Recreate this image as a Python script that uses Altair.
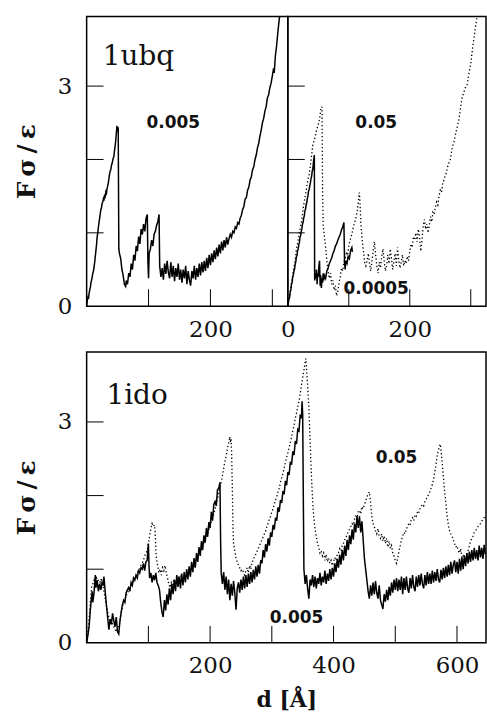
import altair as alt
import pandas as pd

# ---------------- data ----------------
# top-left: 1ubq, v = 0.005 (solid)
UBQ_005 = [(0,0.00),(1,0.08),(2,0.12),(3,0.10),(4,0.18),(5,0.22),(6,0.26),(7,0.32),(8,0.36),(9,0.40),(10,0.45),(11,0.48),(12,0.54),(13,0.60),(14,0.68),(15,0.76),(16,0.84),(17,0.95),(18,1.00),(19,1.08),(20,1.14),(21,1.20),(22,1.26),(23,1.32),(24,1.34),(25,1.40),(26,1.42),(27,1.46),(28,1.44),(29,1.52),(30,1.50),(31,1.56),(32,1.54),(33,1.60),(34,1.64),(35,1.68),(36,1.74),(37,1.80),(38,1.84),(39,1.86),(40,1.92),(41,1.94),(42,1.98),(43,2.02),(44,2.04),(45,2.12),(46,2.18),(47,2.26),(48,2.36),(49,2.46),(50,2.38),(51,2.44),(52,0.78),
    (53,0.72),(55,0.65),(57,0.50),(59,0.42),(61,0.30),(63,0.27),(64,0.35),(66,0.30),(68,0.45),(70,0.40),(72,0.58),(74,0.50),(76,0.70),(78,0.62),(80,0.82),(82,0.75),(84,0.95),(86,0.85),(88,1.05),(90,0.98),(92,1.12),(94,1.02),(96,1.20),(98,1.25),(99,0.60),(100,0.38),(101,0.72),(103,0.78),(105,0.90),(107,0.82),(109,0.98),(111,1.02),(113,1.10),(115,1.15),(117,1.25),(118,0.55),
    (120,0.40),(122,0.52),(124,0.36),(126,0.58),(128,0.44),(130,0.62),(132,0.46),(134,0.38),(136,0.60),(138,0.40),(140,0.55),(142,0.34),(144,0.52),(146,0.40),(148,0.58),(150,0.36),(152,0.50),(154,0.32),(156,0.50),(158,0.38),(160,0.55),(162,0.30),(164,0.48),(166,0.36),(168,0.28),(170,0.48),(172,0.38),(174,0.55),(176,0.36),(178,0.52),(180,0.40),(182,0.58),(184,0.42),(186,0.60),(188,0.46),(190,0.62),(192,0.48),(194,0.66),(196,0.52),(198,0.70),(200,0.56),(202,0.72),(204,0.60),(206,0.76),(208,0.64),(210,0.80),(212,0.68),(214,0.84),(216,0.72),(218,0.88),(220,0.76),(222,0.90),(224,0.80),(226,0.94),(228,0.84),
    (230,0.92),(232,0.98),(234,0.94),(236,1.02),(238,1.00),(240,1.08),(242,1.06),(244,1.14),(246,1.12),(248,1.20),(250,1.24),(252,1.32),(254,1.36),(256,1.46),(258,1.48),(260,1.58),(262,1.62),(264,1.72),(266,1.76),(268,1.86),(270,1.90),(272,2.00),(274,2.06),(276,2.16),(278,2.22),(280,2.32),(282,2.40),(284,2.50),(286,2.56),(288,2.66),(290,2.72),(292,2.84),(294,2.88),(296,2.98),(298,3.04),(300,3.14),(302,3.24),(303,3.18),(305,3.42),(307,3.56),(309,3.74),(311,3.90),(312,3.98)]

# top-right: v = 0.05 (dotted)
UBQ_05 = [(0,0.00),(3,0.15),(6,0.32),(9,0.48),(12,0.62),(14,0.78),(17,0.90),(20,1.05),(23,1.18),(26,1.38),(29,1.52),(32,1.68),(35,1.80),(38,1.98),(41,2.20),(44,2.28),(47,2.40),(50,2.48),(52,2.55),(54,2.68),(56,2.72),(57,1.60),(58,1.10),(60,0.95),(62,0.80),(64,0.62),(66,0.48),(68,0.38),(70,0.45),(72,0.30),(74,0.35),(76,0.22),(78,0.28),(80,0.14),(82,0.20),(84,0.32),(86,0.40),(88,0.52),(90,0.48),(92,0.60),(94,0.66),(96,0.72),(98,0.70),(100,0.82),(102,0.90),(104,0.95),(106,1.02),(108,1.10),(110,1.15),(112,1.22),(114,1.30),(116,1.45),(117,1.55),(118,1.48),(120,1.10),(122,0.90),(124,0.75),(126,0.60),(128,0.55),(130,0.62),(132,0.72),(134,0.58),(136,0.48),(138,0.62),(140,0.75),(142,0.88),(144,0.70),(146,0.55),(148,0.45),(150,0.60),(152,0.52),(154,0.68),(156,0.78),(158,0.62),(160,0.48),(162,0.55),(164,0.70),(166,0.58),(168,0.78),(170,0.65),(172,0.50),(174,0.62),(176,0.72),(178,0.55),(180,0.80),(182,0.62),(184,0.52),(186,0.60),(188,0.70),(190,0.55),(192,0.62),(194,0.58),(196,0.68),(198,0.62),(200,0.75),(202,0.85),(204,0.80),(206,0.95),(208,0.90),(210,1.00),(212,0.88),(214,1.05),(216,0.95),(218,0.75),(220,0.90),(222,1.10),(224,1.18),(226,1.05),(228,1.12),(230,1.00),(232,1.10),(234,1.22),(236,1.15),(238,1.28),(240,1.25),(242,1.35),(244,1.42),(246,1.38),(248,1.50),(250,1.58),(252,1.55),(254,1.68),(256,1.72),(258,1.78),(260,1.82),(262,1.90),(264,1.95),(266,1.98),(268,2.08),(270,2.18),(272,2.22),(274,2.30),(276,2.38),(278,2.45),(280,2.52),(282,2.62),(284,2.75),(286,2.85),(288,2.90),(290,2.95),(292,3.00),(294,3.02),(296,3.12),(298,3.22),(300,3.30),(302,3.45),(304,3.58),(306,3.70),(308,3.82),(310,3.92),(312,3.98)]

# top-right: v = 0.0005 (solid)
UBQ_0005 = [(0,0.00),(1,0.06),(2,0.10),(3,0.12),(4,0.20),(5,0.22),(6,0.30),(7,0.32),(8,0.40),(9,0.42),(10,0.48),(11,0.50),(12,0.57),(13,0.60),(14,0.67),(15,0.69),(16,0.76),(17,0.78),(18,0.84),(19,0.87),(20,0.94),(21,0.96),(22,1.02),(23,1.05),(24,1.12),(25,1.14),(26,1.20),(27,1.23),(28,1.30),(29,1.32),(30,1.38),(31,1.41),(32,1.47),(33,1.50),(34,1.57),(35,1.59),(36,1.64),(37,1.68),(38,1.74),(39,1.77),(40,1.84),(41,1.87),(42,1.96),(43.5,2.06),(44,0.35),(45,0.42),(46,0.38),(47,0.50),(48,0.30),(49,0.45),(50,0.40),(51,0.55),(52,0.62),(53,0.28),(54,0.42),(55,0.25),(56,0.38),(57,0.32),(58,0.45),(59,0.35),(60,0.42),(62,0.38),(64,0.48),(66,0.52),(68,0.58),(70,0.62),(72,0.66),(74,0.72),(76,0.76),(78,0.82),(80,0.85),(82,0.90),(84,0.94),(86,0.98),(88,1.04),(90,1.08),(92,1.14),(93,0.60),(94,0.50),(95,0.62),(97,0.58),(99,0.68),(101,0.65),(103,0.76),(105,0.80),(106,0.74)]

# bottom: 1ido, v = 0.005 (solid)
IDO_005 = [(0,0.00),(2,0.10),(4,0.22),(6,0.45),(8,0.62),(9,0.70),(10,0.55),(12,0.68),(14,0.92),(15,0.75),(17,0.85),(19,0.70),(21,0.80),(23,0.72),(25,0.82),(27,0.78),(28,0.90),(30,0.70),(32,0.52),(34,0.35),(36,0.18),(38,0.32),(40,0.25),(42,0.40),(44,0.30),(46,0.22),(48,0.35),(50,0.15),(52,0.12),(54,0.30),(56,0.42),(58,0.52),(60,0.58),(62,0.55),(64,0.68),(66,0.72),(68,0.75),(70,0.70),(72,0.82),(74,0.78),(76,0.88),(78,0.85),(80,0.92),(82,0.88),(84,0.98),(86,0.95),(88,1.02),(90,1.00),(92,1.08),(94,0.98),(96,1.10),(98,1.12),(100,1.35),(101,1.05),(102,0.88),(104,0.95),(106,0.82),(108,0.92),(110,0.85),(112,0.95),(114,0.82),(116,0.78),(118,0.72),
    (120,0.55),(122,0.42),(124,0.35),(126,0.58),(128,0.44),(130,0.66),(132,0.52),(134,0.74),(136,0.58),(138,0.80),(140,0.66),(142,0.86),(144,0.70),(146,0.92),(148,0.76),(150,0.90),(152,0.74),(154,0.94),(156,0.78),(158,0.96),(160,0.82),(162,1.00),(164,0.86),(166,1.04),(168,0.90),(170,1.10),(172,0.96),(174,1.15),(176,1.02),(178,1.22),(180,1.10),(182,1.30),(184,1.18),(186,1.38),(188,1.26),(190,1.46),(192,1.36),(194,1.56),(196,1.44),(198,1.64),(200,1.56),(202,1.78),(204,1.66),(206,1.88),(208,1.92),(210,1.86),(212,2.08),(214,2.10),(216,2.18),(217,1.40),
    (218,0.95),(220,0.80),(222,0.96),(224,0.72),(226,0.90),(228,0.66),(230,0.86),(232,0.58),(234,0.80),(236,0.64),(238,0.84),(240,0.68),(242,0.45),(244,0.74),(246,0.82),(248,0.68),(250,0.86),(252,0.72),(254,0.90),(256,0.74),(258,0.92),(260,0.76),(262,0.94),(264,0.80),(266,0.96),(268,0.82),(270,0.99),(272,0.86),(274,1.04),(276,0.90),(278,1.06),(280,0.94),
    (282,1.12),(284,1.08),(286,1.26),(288,1.16),(290,1.34),(292,1.24),(294,1.42),(296,1.32),(298,1.50),(300,1.44),(302,1.60),(304,1.54),(306,1.70),(308,1.66),(310,1.84),(312,1.78),(314,1.94),(316,1.90),(318,2.06),(320,2.02),(322,2.20),(324,2.14),(326,2.32),(328,2.28),(330,2.46),(332,2.42),(334,2.60),(336,2.55),(338,2.74),(340,2.70),(342,2.90),(344,2.88),(346,3.10),(348,3.05),(349,3.28),(350,3.10),(351,2.00),
    (352,1.00),(354,0.80),(356,0.92),(358,0.74),(360,0.60),(362,0.86),(364,0.78),(366,0.92),(368,0.76),(370,0.90),(372,0.74),(374,0.88),(376,0.80),(378,0.95),(380,0.78),(382,0.90),(384,0.82),(386,0.98),(388,0.80),(390,0.94),(392,0.84),(394,1.00),(396,0.86),(398,1.02),(400,0.90),(402,1.08),(404,0.96),(406,1.14),(408,1.02),(410,1.20),(412,1.06),(414,1.26),(416,1.12),(418,1.32),(420,1.18),(422,1.40),(424,1.26),(426,1.46),(428,1.34),(430,1.54),(432,1.40),(434,1.62),(436,1.50),(438,1.72),(440,1.56),(442,1.72),(444,1.50),(446,1.65),(448,1.40),(450,1.15),(452,1.00),(454,0.85),
    (456,0.70),(458,0.60),(460,0.78),(462,0.64),(464,0.82),(466,0.66),(468,0.84),(470,0.68),(472,0.60),(474,0.78),(476,0.58),(478,0.52),(480,0.46),(482,0.66),(484,0.56),(486,0.72),(488,0.58),(490,0.76),(492,0.64),(494,0.82),(496,0.68),(498,0.86),(500,0.72),(502,0.88),(504,0.70),(506,0.86),(508,0.72),(510,0.90),(512,0.66),(514,0.88),(516,0.72),(518,0.90),(520,0.74),(522,0.68),(524,0.88),(526,0.74),(528,0.92),(530,0.76),(532,0.70),(534,0.90),(536,0.76),(538,0.92),(540,0.78),(542,0.94),(544,0.80),(546,0.74),(548,0.92),(550,0.78),(552,0.96),(554,0.80),(556,0.94),(558,0.80),(560,0.98),(562,0.82),(564,0.96),(566,0.84),(568,1.00),(570,0.86),(572,0.82),(574,0.99),(576,0.86),(578,1.02),(580,0.88),(582,1.04),(584,0.90),(586,1.06),(588,0.92),(590,1.10),(592,0.94),(594,1.06),(596,1.12),(598,0.96),(600,1.10),(602,0.94),(604,1.14),(606,0.98),(608,1.16),(610,1.00),(612,1.19),(614,1.04),(616,1.22),(618,1.08),(620,1.24),(622,1.10),(624,1.26),(626,1.12),(628,1.29),(630,1.14),(632,1.26),(634,1.12),(636,1.32),(638,1.16),(640,1.29),(642,1.14),(644,1.33),(646,1.20)]

# bottom: 1ido, v = 0.05 (dotted)
IDO_05 = [(0,0.00),(2,0.15),(4,0.32),(6,0.55),(8,0.75),(10,0.80),(12,0.85),(14,0.82),(16,0.88),(18,0.84),(20,0.86),(22,0.82),(24,0.88),(26,0.80),(28,0.70),(30,0.60),(32,0.50),(34,0.42),(36,0.35),(38,0.30),(40,0.32),(42,0.25),(44,0.22),(46,0.18),(48,0.15),(50,0.20),(52,0.22),(54,0.30),(56,0.40),(58,0.48),(60,0.55),(62,0.58),(64,0.65),(66,0.66),(68,0.72),(70,0.75),(72,0.78),(74,0.82),(76,0.84),(78,0.88),(80,0.90),(82,0.95),(84,0.98),(86,1.00),(88,1.05),(90,1.08),(92,1.12),(94,1.18),(96,1.22),(98,1.25),(100,1.35),(102,1.45),(104,1.55),(106,1.62),(108,1.58),(110,1.60),(111,1.50),(112,1.30),(113,1.15),(115,1.05),(117,0.95),(119,1.00),(121,0.92),(123,1.02),(125,0.98),(127,1.05),(129,0.95),(131,0.88),(133,0.80),(135,0.75),(137,0.82),(139,0.78),(141,0.85),(143,0.80),(145,0.84),(147,0.82),(149,0.88),(151,0.84),(153,0.90),(155,0.86),(157,0.88),(159,0.92),(161,0.90),(163,0.95),(165,0.92),(167,0.98),(169,0.96),(171,1.00),(173,1.02),(175,1.06),(177,1.10),(179,1.14),(181,1.18),(183,1.22),(185,1.25),(187,1.30),(189,1.34),(191,1.38),(193,1.42),(195,1.46),(197,1.52),(199,1.56),(201,1.62),(203,1.68),(205,1.72),(207,1.78),(209,1.85),(211,1.92),(213,2.00),(215,2.08),(217,2.15),(219,2.22),(221,2.32),(223,2.42),(225,2.50),(227,2.58),(229,2.68),(231,2.75),(232,2.80),(233,2.72),(234,2.78),(235,2.55),(236,2.10),(237,1.60),(238,1.35),(240,1.25),(242,1.15),(244,1.10),(246,1.05),(248,1.02),(250,0.98),(252,1.00),(254,0.96),(256,0.92),(258,0.98),(260,1.02),(262,0.95),(264,1.05),(266,1.00),(268,1.10),(270,1.12),(272,1.18),(274,1.20),(276,1.24),(278,1.28),(280,1.32),(282,1.36),(284,1.40),(286,1.44),(288,1.48),(290,1.52),(292,1.58),(294,1.62),(296,1.68),(298,1.72),(300,1.78),(302,1.82),(304,1.88),(306,1.94),(308,1.98),(310,2.05),(312,2.10),(314,2.18),(316,2.24),(318,2.30),(320,2.38),(322,2.45),(324,2.52),(326,2.58),(328,2.65),(330,2.72),(332,2.80),(334,2.88),(336,2.95),(338,3.05),(340,3.12),(342,3.20),(344,3.28),(346,3.38),(348,3.50),(350,3.60),(352,3.70),(354,3.82),(355,3.86),(356,3.75),(358,3.50),(360,3.20),(362,2.75),(364,2.30),(366,1.95),(368,1.70),(370,1.55),(372,1.45),(374,1.35),(376,1.30),(378,1.22),(380,1.25),(382,1.18),(384,1.22),(386,1.12),(388,1.20),(390,1.10),(392,1.15),(394,1.08),(396,1.12),(398,1.05),(400,1.10),(402,1.16),(404,1.12),(406,1.20),(408,1.22),(410,1.28),(412,1.25),(414,1.32),(416,1.35),(418,1.40),(420,1.42),(422,1.48),(424,1.50),(426,1.55),(428,1.58),(430,1.62),(432,1.60),(434,1.68),(436,1.72),(438,1.70),(440,1.78),(442,1.80),(444,1.75),(446,1.85),(448,1.82),(450,1.88),(452,1.92),(454,1.98),(456,2.02),(458,2.05),(460,1.90),(462,1.72),(464,1.62),(466,1.58),(468,1.52),(470,1.48),(472,1.55),(474,1.45),(476,1.42),(478,1.48),(480,1.38),(482,1.45),(484,1.35),(486,1.42),(488,1.30),(490,1.38),(492,1.28),(494,1.32),(496,1.22),(498,1.18),(500,1.12),(502,1.08),(504,1.15),(506,1.25),(508,1.32),(510,1.40),(512,1.45),(514,1.50),(516,1.48),(518,1.55),(520,1.58),(522,1.62),(524,1.60),(526,1.68),(528,1.70),(530,1.66),(532,1.74),(534,1.72),(536,1.78),(538,1.76),(540,1.82),(542,1.85),(544,1.88),(546,1.86),(548,1.92),(550,1.95),(552,1.98),(554,2.02),(556,2.05),(558,2.10),(560,2.15),(562,2.22),(564,2.32),(566,2.42),(568,2.55),(570,2.62),(572,2.68),(573,2.70),(574,2.62),(576,2.45),(578,2.25),(580,2.05),(582,1.90),(584,1.72),(586,1.60),(588,1.52),(590,1.48),(592,1.45),(594,1.40),(596,1.35),(598,1.30),(600,1.32),(602,1.25),(604,1.22),(606,1.28),(608,1.15),(610,1.18),(612,1.12),(614,1.10),(616,1.20),(618,1.25),(620,1.32),(622,1.38),(624,1.42),(626,1.45),(628,1.50),(630,1.52),(632,1.55),(634,1.58),(636,1.60),(638,1.62),(640,1.65),(642,1.68),(644,1.70),(646,1.72)]

# axis ticks / labels
Y_TICKS = [1, 2, 3]
Y_LABELS = [0, 3]
TOP_X_TICKS = [100, 200, 300]
TOPL_X_LABELS = [200]
TOPR_X_LABELS = [0, 200]
BOT_X_TICKS = [100, 200, 300, 400, 500, 600]
BOT_X_LABELS = [200, 400, 600]

# text annotations: (d, F, text)
TOPL_NAME = [(26, 3.29, "1ubq")]
TOPL_ANN = [(140, 2.50, "0.005")]
TOPR_ANN = [(145, 2.50, "0.05"), (145, 0.23, "0.0005")]
BOT_NAME = [(32, 3.25, "1ido")]
BOT_ANN = [(502, 2.51, "0.05"), (340, 0.34, "0.005")]

Y_TITLE = "F\u2009σ\u2009/\u2009ε"
X_TITLE = "d [Å]"

TOP_XDOM = [0, 325]
BOT_XDOM = [0, 647]
YDOM = [0, 3.95]

TICK_FONT = "DejaVu Serif"


def pairs_df(pairs):
    return pd.DataFrame({"d": [p[0] for p in pairs], "F": [p[1] for p in pairs]})


def text_df(items):
    return pd.DataFrame({"d": [t[0] for t in items], "F": [t[1] for t in items],
                         "t": [t[2] for t in items]})


def panel(width, height, xdom, curves, xticks, xlabels, show_y, names, anns, xtitle=None):
    xs = alt.Scale(domain=xdom, nice=False, zero=False)
    ys = alt.Scale(domain=YDOM, nice=False, zero=False)
    xaxis_kw = dict(values=xlabels, ticks=False, domain=False, grid=False, format="d",
                    labelFont=TICK_FONT, labelFontSize=23, labelColor="#111",
                    labelPadding=12, labelFlush=False, labelOverlap=False)
    if xtitle:
        xaxis = alt.Axis(title=xtitle, titleFont=TICK_FONT, titleFontSize=22,
                         titleFontWeight="bold", titleColor="#111", titlePadding=12,
                         **xaxis_kw)
    else:
        xaxis = alt.Axis(title=None, **xaxis_kw)
    if show_y:
        yenc = alt.Y("F:Q", scale=ys,
                     axis=alt.Axis(values=Y_LABELS, ticks=False, domain=False, grid=False,
                                   format="d",
                                   labelFont=TICK_FONT, labelFontSize=23, labelColor="#111",
                                   labelPadding=15, labelFlush=False,
                                   title=Y_TITLE, titleFont=TICK_FONT, titleFontSize=25,
                                   titleFontWeight="bold", titleColor="#111", titlePadding=18))
    else:
        yenc = alt.Y("F:Q", scale=ys, axis=None)

    layers = []
    first = True
    for pairs, dashed in curves:
        kw = dict(color="black", strokeWidth=1.5, clip=True)
        if dashed:
            kw["strokeDash"] = [1.3, 2.4]
            kw["strokeWidth"] = 1.3
        enc_x = alt.X("d:Q", scale=xs, axis=xaxis) if first else alt.X("d:Q", scale=xs)
        enc_y = yenc if first else alt.Y("F:Q", scale=ys)
        layers.append(alt.Chart(pairs_df(pairs)).mark_line(**kw).encode(x=enc_x, y=enc_y))
        first = False

    yt = pd.DataFrame({"F": Y_TICKS})
    layers.append(alt.Chart(yt).mark_rule(color="black", strokeWidth=1).encode(
        y=alt.Y("F:Q", scale=ys), x=alt.value(0), x2=alt.value(17)))
    xt = pd.DataFrame({"d": xticks})
    layers.append(alt.Chart(xt).mark_rule(color="black", strokeWidth=1).encode(
        x=alt.X("d:Q", scale=xs), y=alt.value(height), y2=alt.value(height - 17)))

    if names:
        layers.append(alt.Chart(text_df(names)).mark_text(
            font=TICK_FONT, fontSize=28, align="left", baseline="alphabetic", color="#111"
        ).encode(x=alt.X("d:Q", scale=xs), y=alt.Y("F:Q", scale=ys), text="t:N"))
    if anns:
        layers.append(alt.Chart(text_df(anns)).mark_text(
            font="DejaVu Sans", fontSize=17, fontWeight="bold", align="center",
            baseline="middle", color="#111"
        ).encode(x=alt.X("d:Q", scale=xs), y=alt.Y("F:Q", scale=ys), text="t:N"))

    return alt.layer(*layers).properties(width=width, height=height)


top_left = panel(202, 291, TOP_XDOM, [(UBQ_005, False)], TOP_X_TICKS, TOPL_X_LABELS,
                 True, TOPL_NAME, TOPL_ANN)
top_right = panel(199, 291, TOP_XDOM, [(UBQ_05, True), (UBQ_0005, False)], TOP_X_TICKS,
                  TOPR_X_LABELS, False, None, TOPR_ANN)
bottom = panel(401, 292, BOT_XDOM, [(IDO_005, False), (IDO_05, True)], BOT_X_TICKS,
               BOT_X_LABELS, True, BOT_NAME, BOT_ANN, xtitle=X_TITLE)

top = alt.hconcat(top_left, top_right, spacing=0, bounds="flush")
chart = alt.vconcat(top, bottom, spacing=9).configure_view(
    stroke="black", strokeWidth=1.5
).properties(
    padding={"left": 13, "top": 14, "right": 0, "bottom": 0},
    background="white",
)

chart.save("out.html", embed_options={"renderer": "svg", "actions": False})
